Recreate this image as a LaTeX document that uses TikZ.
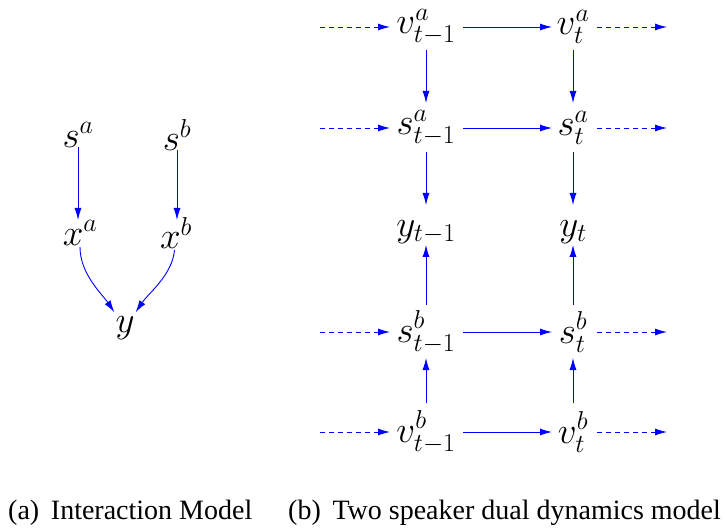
\RequirePackage{fix-cm}
\documentclass[tikz,border=0pt]{standalone}
\usepackage{fontspec}
\setmainfont{Liberation Serif}
\usetikzlibrary{arrows.meta}
\tikzset{
  lbl/.style={inner sep=0pt, font=\fontsize{37}{42}\selectfont},
  arr/.style={draw=blue, line width=0.9pt, -{Latex[length=12pt,width=7pt]}},
  darr/.style={arr, dash pattern=on 5pt off 4pt},
  captext/.style={inner sep=0pt, anchor=base west, font=\rmfamily\fontsize{28}{32}\selectfont}
}
\begin{document}
\begin{tikzpicture}[x=1pt,y=1pt]
\useasboundingbox (0,0) rectangle (725,528);
% left panel
\node[lbl] (sa) at (78,393) {$s^a$};
\node[lbl] (sb) at (177,393) {$s^b$};
\node[lbl] (xa) at (80,295) {$x^a$};
\node[lbl] (xb) at (176,295) {$x^b$};
\node[lbl] (y) at (125,200) {$y$};
\draw[arr, shorten <=12pt, shorten >=13pt] (sa.center) -- (sa.center |- xa.center);
\draw[arr, shorten <=15pt, shorten >=13pt] (sb.center) -- (sb.center |- xb.center);
\draw[arr, shorten <=14pt, shorten >=19pt] (xa.center) to[out=-90, in=124] (y.center);
\draw[arr, shorten <=17pt, shorten >=19pt] (xb.center) to[out=-95, in=56] (y.center);
% right panel
\node[lbl] (va1) at (426,501) {$v^a_{t-1}$};
\node[lbl] (vat) at (573,501) {$v^a_t$};
\node[lbl] (sa1) at (426,400) {$s^a_{t-1}$};
\node[lbl] (sat) at (573,400) {$s^a_t$};
\node[lbl] (y1) at (426,296) {$y_{t-1}$};
\node[lbl] (yt) at (573,296) {$y_t$};
\node[lbl] (sb1) at (426,196) {$s^b_{t-1}$};
\node[lbl] (sbt) at (573,196) {$s^b_t$};
\node[lbl] (vb1) at (426,96) {$v^b_{t-1}$};
\node[lbl] (vbt) at (573,96) {$v^b_t$};
\foreach \r in {va,sa,sb,vb}{
  \coordinate (\r in) at (320,0 |- \r1.center);
  \coordinate (\r out) at (667,0 |- \r1.center);
  \draw[darr, shorten >=36pt] (\r in) -- (\r1.center);
  \draw[arr, shorten <=37pt, shorten >=21pt] (\r1.center) -- (\r t.center);
  \draw[darr, shorten <=24pt] (\r t.center) -- (\r out);
}
\foreach \c in {1,t}{
  \draw[arr, shorten <=23pt, shorten >=25pt] (va\c.center) -- (sa\c.center);
  \draw[arr, shorten <=24pt, shorten >=27pt] (sa\c.center) -- (y\c.center);
  \draw[arr, shorten <=27pt, shorten >=13pt] (sb\c.center) -- (y\c.center);
  \draw[arr, shorten <=29pt, shorten >=26pt] (vb\c.center) -- (sb\c.center);
}
% captions
\node[captext] (ca) at (8,9) {(a)\, Interaction Model};
\node[captext] (cb) at (288,9) {(b)\, Two speaker dual dynamics model};
\end{tikzpicture}
\end{document}
